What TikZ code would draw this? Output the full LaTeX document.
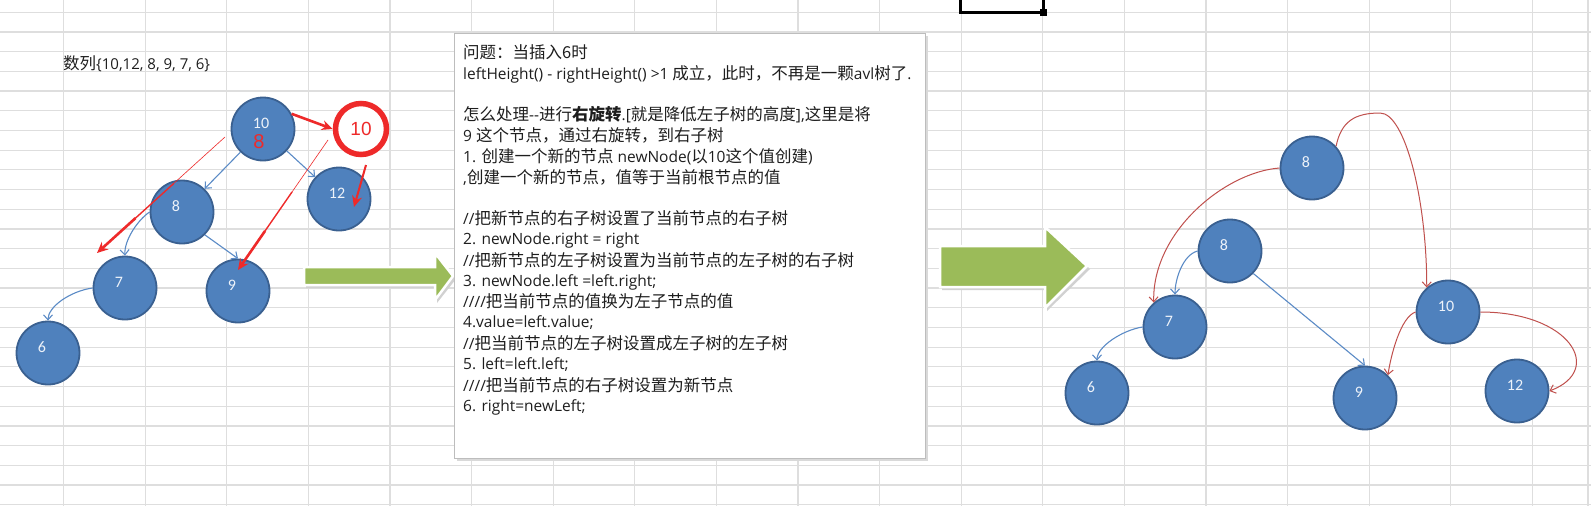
\documentclass[tikz,border=0pt]{standalone}
\usepackage{fontspec}
\setmainfont{Carlito}
\newfontfamily\cjk{Noto Sans CJK SC}
\newfontfamily\arialf{Liberation Sans}
\newfontfamily\latf{Open Sans}
\usetikzlibrary{arrows.meta,calc}
\definecolor{gridc}{HTML}{DEDEDE}
\definecolor{nodeblue}{HTML}{4F81BD}
\definecolor{nodeedge}{HTML}{3A6090}
\definecolor{linkblue}{HTML}{5B8BC6}
\definecolor{softred}{HTML}{C0504D}
\definecolor{brightred}{HTML}{EE2A2A}
\definecolor{gfill}{HTML}{9BBB59}
\definecolor{txt}{HTML}{1E1E1E}
\definecolor{lblc}{HTML}{EEF3FA}
\definecolor{boxedge}{HTML}{BDBDBD}
\newcommand\zh[1]{{\cjk\fontsize{16.5}{18}\selectfont #1}}
\begin{document}
\begin{tikzpicture}[x=1pt,y=-1pt,
  bn/.style={circle, minimum size=63pt, inner sep=0pt, fill=nodeblue, draw=nodeedge, line width=1.8pt},
  labone/.style={text=lblc, font=\fontsize{16}{16}\selectfont, xshift=-6pt, yshift=6pt},
  labtwo/.style={text=lblc, font=\fontsize{16}{16}\selectfont, xshift=-2pt, yshift=6pt},
  blink/.style={draw=linkblue, line width=1.1pt, -{Straight Barb[length=5pt,width=9pt]}},
  rlink/.style={draw=softred, line width=1pt, -{Straight Barb[length=5pt,width=9pt]}},
  rthick/.style={draw=brightred, line width=2.6pt, -{Stealth[length=11pt,width=10pt]}},
  txtline/.style={anchor=base west, inner sep=0pt, text=txt, font=\latf\fontsize{15.5}{17}\selectfont},
  gridline/.style={draw=gridc, line width=1.2pt},
  garrow/.style={fill=gfill, draw=white, line width=2.5pt, line join=miter}
]
\useasboundingbox (0,0) rectangle (1591,506);
\fill[white] (0,0) rectangle (1591,506);
% spreadsheet grid
\foreach \i in {0,...,20} \draw[gridline] ({-18+81.6*\i},0) -- ({-18+81.6*\i},506);
\foreach \j in {0,...,25} \draw[gridline] (0,{12.2+19.7*\j}) -- (1591,{12.2+19.7*\j});
\draw[gridline] (1588,0) -- (1588,506);
% selected cell
\draw[black, line width=3pt] (960,-5) -- (960,12) -- (1043,12) -- (1043,-5);
\fill[black] (1039.5,8.5) rectangle (1046.5,15.5);

% title
\node[txtline, font=\latf\fontsize{15}{16}\selectfont] (title) at (63,69) {\zh{数列}\{10,12, 8, 9, 7, 6\}};

% left tree
\node[bn, label={[labtwo]center:10}] (n10) at (263,129) {};
\node[bn, label={[labone]center:8}] (n8) at (182,212) {};
\node[bn, label={[labtwo]center:12}] (n12) at (339,199) {};
\node[bn, label={[labone]center:7}] (n7) at (125,288) {};
\node[bn, label={[labone]center:9}] (n9) at (238,291) {};
\node[bn, label={[labone]center:6}] (n6) at (48,353) {};
\draw[blink] (n10) -- (n8);
\draw[blink] (n10) -- (n12);
\draw[blink] (n8.-45) -- (n9.north);
\draw[blink] (n8.west) .. controls +(-12,8) and +(-1,-15) .. (n7.north);
\draw[blink] (n7.west) .. controls +(-22,3) and +(0,-14) .. (n6.north);

% red annotations
\node[circle, draw=brightred, line width=5.5pt, fill=white, minimum size=51pt, inner sep=0pt,
      text=brightred, font=\arialf\fontsize{19}{19}\selectfont] (rc) at (361,129) {10};
\node[inner sep=0pt, text=brightred, font=\arialf\fontsize{20}{20}\selectfont] (red8) at (259,142) {8};
\draw[rthick] (n10.28) -- (rc.west);
\coordinate (ra2s) at (225,137);
\coordinate (ra2e) at (97,253);
\draw[brightred, line width=0.6pt] (ra2s) -- ($(ra2s)!0.42!(ra2e)$);
\draw[brightred, line width=1.4pt] ($(ra2s)!0.4!(ra2e)$) -- ($(ra2s)!0.72!(ra2e)$);
\draw[rthick] ($(ra2s)!0.7!(ra2e)$) -- (ra2e);
\coordinate (ra3s) at (328,140);
\coordinate (ra3e) at (238,270);
\draw[brightred, line width=0.6pt] (ra3s) -- ($(ra3s)!0.42!(ra3e)$);
\draw[brightred, line width=1.4pt] ($(ra3s)!0.4!(ra3e)$) -- ($(ra3s)!0.72!(ra3e)$);
\draw[rthick] ($(ra3s)!0.7!(ra3e)$) -- (ra3e);
\coordinate (ra4s) at (366,165);
\coordinate (ra4e) at (354,207);
\draw[rthick, line width=2pt] (ra4s) -- (ra4e);

% green arrows
\fill[black!18] (306,270) -- (437,270) -- (437,256) -- (456,279) -- (437,303) -- (437,288) -- (306,288) -- cycle;
\filldraw[garrow] (304,267) -- (435,267) -- (435,253) -- (453,276) -- (435,300) -- (435,285) -- (304,285) -- cycle;
\fill[black!18] (942,249) -- (1047,249) -- (1047,230) -- (1090,269) -- (1047,311) -- (1047,290) -- (942,290) -- cycle;
\filldraw[garrow] (940,246) -- (1045,246) -- (1045,227) -- (1087,266) -- (1045,308) -- (1045,287) -- (940,287) -- cycle;

% text box
\fill[black!15] (457,36) rectangle (928,461);
\node[draw=boxedge, fill=white, line width=0.8pt, minimum width=471pt, minimum height=425pt,
      anchor=north west, inner sep=0pt] (tbox) at (454,33) {};
\node[txtline] (t0) at (463,58) {\zh{问题：当插入6时}};
\node[txtline] (t1) at (463,79) {leftHeight() - rightHeight() >1 \zh{成立，此时，不再是一颗}avl\zh{树了}.};
\node[txtline] (t3) at (463,120.5) {\zh{怎么处理}-{}-\zh{进行}\zh{\bfseries 右旋转}.[\zh{就是降低左子树的高度}],\zh{这里是将}};
\node[txtline] (t4) at (463,141.5) {9 \zh{这个节点，通过右旋转，到右子树}};
\node[txtline] (t5) at (463,162) {1. \zh{创建一个新的节点} newNode(\zh{以}10\zh{这个值创建})};
\node[txtline] (t6) at (463,183) {,\zh{创建一个新的节点，值等于当前根节点的值}};
\node[txtline] (t8) at (463,224.5) {//\zh{把新节点的右子树设置了当前节点的右子树}};
\node[txtline] (t9) at (463,244.5) {2. newNode.right = right};
\node[txtline] (t10) at (463,266) {//\zh{把新节点的左子树设置为当前节点的左子树的右子树}};
\node[txtline] (t11) at (463,286) {3. newNode.left =left.right;};
\node[txtline] (t12) at (463,307.5) {////\zh{把当前节点的值换为左子节点的值}};
\node[txtline] (t13) at (463,327.5) {4.value=left.value;};
\node[txtline] (t14) at (463,349) {//\zh{把当前节点的左子树设置成左子树的左子树}};
\node[txtline] (t15) at (463,369) {5. left=left.left;};
\node[txtline] (t16) at (463,391) {////\zh{把当前节点的右子树设置为新节点}};
\node[txtline] (t17) at (463,411) {6. right=newLeft;};

% right tree
\node[bn, label={[labone]center:8}] (m8t) at (1312,168) {};
\node[bn, label={[labone]center:8}] (m8) at (1230,251) {};
\node[bn, label={[labone]center:7}] (m7) at (1175,327) {};
\node[bn, label={[labone]center:6}] (m6) at (1097,393) {};
\node[bn, label={[labone]center:9}] (m9) at (1365,398) {};
\node[bn, label={[labtwo]center:10}] (m10) at (1448,312) {};
\node[bn, label={[labtwo]center:12}] (m12) at (1517,391) {};
\draw[blink] (m8.-44) -- (m9.north);
\draw[blink] (m8.west) .. controls +(-15,4) and +(0,-15) .. (m7.north);
\draw[blink] (m7.west) .. controls +(-20,3) and +(0,-14) .. (m6.north);
\coordinate (peak) at (1380,113);
\draw[rlink] (m8t.42) .. controls +(5,-25) and +(-25,0) .. (peak) .. controls +(25,0) and +(0,-88) .. (m10.131);
\draw[rlink] (m8t.west) .. controls (1225,172) and (1152,232) .. (m7.131);
\draw[rlink] (m10.west) .. controls +(-15,5) and +(3,-20) .. (m9.45);
\draw[rlink] (m10.east) .. controls (1570,312) and (1605,370) .. (m12.east);
\end{tikzpicture}
\end{document}
